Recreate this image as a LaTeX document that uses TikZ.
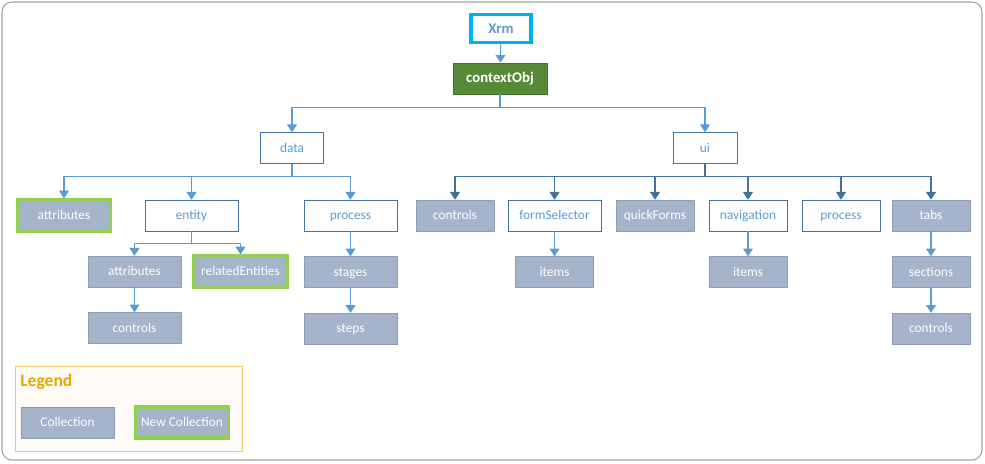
\documentclass[tikz,border=0pt]{standalone}
\usepackage{fontspec}
\setmainfont{Carlito}
\usetikzlibrary{
	arrows.meta,
	positioning
}

\definecolor{colbox}{HTML}{A5B4CB}
\definecolor{colboxline}{HTML}{8A9CB6}
\definecolor{colblue}{HTML}{5B9BD5}
\definecolor{coldark}{HTML}{41719C}
\definecolor{colgreen}{HTML}{92D050}
\definecolor{colcyan}{HTML}{00B0F0}
\definecolor{colobj}{HTML}{578A37}
\definecolor{collegend}{HTML}{F2CA6A}
\definecolor{collegtext}{HTML}{E8A700}
\definecolor{colframe}{HTML}{A6A6A6}

\begin{document}
\begin{tikzpicture}[
			x=0.025cm, y=-0.025cm,
			font=\fontsize{9.5}{11}\selectfont,
			coll/.style={draw=colboxline, fill=colbox, text=white, minimum width=2.325cm, minimum height=0.775cm, inner sep=0pt, text height=1.6ex, text depth=0.4ex},
			collsm/.style={coll, minimum width=1.95cm},
			newcoll/.style={coll, draw=colgreen, line width=2.2pt},
			obj/.style={draw=coldark, fill=white, text=colblue, minimum width=2.325cm, minimum height=0.775cm, inner sep=0pt, text height=1.6ex, text depth=0.4ex},
			objsm/.style={obj, minimum width=1.95cm},
			fl/.style={-{Triangle[width=7pt,length=5.5pt]}, draw=colblue, line width=0.8pt},
			fldark/.style={fl, draw=coldark}
		]

		\useasboundingbox (0,0) rectangle (985,463);
		\draw[colframe, rounded corners=0.25cm, line width=0.8pt] (2,2) rectangle (982,460);

		% top of the tree
		\node[draw=colcyan, line width=2.6pt, fill=white, text=colblue, font=\fontsize{10.5}{12}\selectfont\bfseries, minimum width=1.5cm, minimum height=0.7cm] (xrm) at (501,28.5) {Xrm};
		\node[draw=colobj!80!black, fill=colobj, text=white, font=\fontsize{10.5}{12}\selectfont\bfseries, minimum width=2.35cm, minimum height=0.775cm] (ctx) at (500,78.5) {contextObj};
		\node[obj, minimum width=1.575cm] (data) at (292,148) {data};
		\node[obj, minimum width=1.6cm] (ui) at (705,148) {ui};

		% data side
		\node[newcoll] (attrA) at (64,215.5) {attributes};
		\node[obj] (entity) at (191.5,215.5) {entity};
		\node[obj] (procA) at (350.5,215.5) {process};
		\node[coll] (attrB) at (134.5,271.5) {attributes};
		\node[newcoll] (related) at (240.5,271.5) {relatedEntities};
		\node[coll, below=0.625cm of attrB] (ctrlB) {controls};
		\node[coll, below=0.625cm of procA] (stages) {stages};
		\node[coll, below=0.625cm of stages] (steps) {steps};

		% ui side
		\node[collsm] (ctrlA) at (455,215.5) {controls};
		\node[obj] (formsel) at (554.5,215.5) {formSelector};
		\node[collsm] (quick) at (655,215.5) {quickForms};
		\node[objsm] (navig) at (748,215.5) {navigation};
		\node[objsm] (procB) at (841,215.5) {process};
		\node[collsm] (tabs) at (931,215.5) {tabs};
		\node[collsm, below=0.625cm of formsel] (itemsA) {items};
		\node[collsm, below=0.625cm of navig] (itemsB) {items};
		\node[collsm, below=0.625cm of tabs] (sections) {sections};
		\node[collsm, below=0.625cm of sections] (ctrlC) {controls};

		% legend
		\node[draw=collegend, fill=orange!3, minimum width=5.675cm, minimum height=2.125cm] (legend) at (128.5,408.5) {};
		\node[anchor=west, text=collegtext, font=\fontsize{12.5}{14}\selectfont\bfseries, inner sep=0pt] (legtitle) at (20,382) {Legend};
		\node[coll] (legcoll) at (67.5,422.5) {Collection};
		\node[newcoll] (legnew) at (182,422.5) {New Collection};

		% connectors
		\draw[fl] (xrm) -- (ctx);
		\draw[fl] (ctx.south) -- ++(0,13) -| (data.north);
		\draw[fl] (ctx.south) -- ++(0,13) -| (ui.north);

		\draw[fl] (data.south) -- ++(0,13) -| (attrA.north);
		\draw[fl] (data.south) -- ++(0,13) -| (entity.north);
		\draw[fl] (data.south) -- ++(0,13) -| (procA.north);
		\draw[fl] (entity.south) -- ++(0,12) -| (attrB.north);
		\draw[fl] (entity.south) -- ++(0,12) -| (related.north);
		\draw[fl] (attrB) -- (ctrlB);
		\draw[fl] (procA) -- (stages);
		\draw[fl] (stages) -- (steps);

		\draw[fldark] (ui.south) -- ++(0,13) -| (ctrlA.north);
		\draw[fldark] (ui.south) -- ++(0,13) -| (formsel.north);
		\draw[fldark] (ui.south) -- ++(0,13) -| (quick.north);
		\draw[fldark] (ui.south) -- ++(0,13) -| (navig.north);
		\draw[fldark] (ui.south) -- ++(0,13) -| (procB.north);
		\draw[fldark] (ui.south) -- ++(0,13) -| (tabs.north);
		\draw[fl] (formsel) -- (itemsA);
		\draw[fl] (navig) -- (itemsB);
		\draw[fl] (tabs) -- (sections);
		\draw[fl] (sections) -- (ctrlC);
	\end{tikzpicture}
\end{document}
